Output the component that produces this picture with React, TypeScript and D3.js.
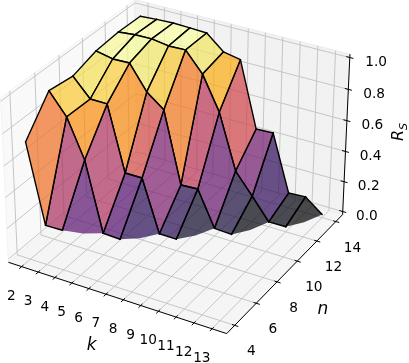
import React from "react";
import * as d3 from "d3";

const kTicks = [2, 3, 4, 5, 6, 7, 8, 9, 10, 11, 12, 13];
const nRows = [4, 6, 8, 10, 12, 14];
const zTicks = [0, 0.2, 0.4, 0.6, 0.8, 1.0];
const zN4 = [0.732, 0.236, 0.238];
const zN6 = [0.934, 0.802, 0.562, 0.122, 0.117];
const zN8 = [0.913, 0.799, 0.798, 0.388, 0.388, 0.056, 0.055];
const zN10 = [0.962, 0.94, 0.943, 0.79, 0.706, 0.251, 0.257, 0.03, 0.024];
const zN12 = [0.976, 0.986, 0.988, 0.971, 0.974, 0.85, 0.637, 0.284, 0.15, 0.011, 0.013];
const zN14 = [0.973, 0.98, 0.984, 0.98, 0.975, 0.883, 0.861, 0.441, 0.446, 0.078, 0.085, 0];
const rows = [zN4, zN6, zN8, zN10, zN12, zN14];

const W = 409, H = 363;
const kLim: [number, number] = [1.198, 13.802];
const nLim: [number, number] = [3.271, 14.729];
const zLim: [number, number] = [-0.0208, 1.0208];
const S = 2100, X0 = 178.6, Y0 = 158.6;

const aspect = [4, 4, 3];
const norm = Math.hypot(...aspect);
const box = aspect.map((a) => (a * 1.8294640721620434 * 25) / 24 / norm);
const kS = d3.scaleLinear().domain(kLim).range([-box[0] / 2, box[0] / 2]);
const nS = d3.scaleLinear().domain(nLim).range([-box[1] / 2, box[1] / 2]);
const zS = d3.scaleLinear().domain(zLim).range([-box[2] / 2, box[2] / 2]);

const el = (30 * Math.PI) / 180, az = (-60 * Math.PI) / 180;
const w = [Math.cos(el) * Math.cos(az), Math.cos(el) * Math.sin(az), Math.sin(el)];
const u = [-w[1], w[0], 0].map((c) => c / Math.hypot(w[0], w[1]));
const v = [
  w[1] * u[2] - w[2] * u[1],
  w[2] * u[0] - w[0] * u[2],
  w[0] * u[1] - w[1] * u[0],
];
const dot = (a: number[], b: number[]) => a[0] * b[0] + a[1] * b[1] + a[2] * b[2];

function proj(k: number, n: number, z: number) {
  const q = [kS(k), nS(n), zS(z)];
  const depth = 10 - dot(q, w);
  return { x: X0 + (S * dot(q, u)) / depth, y: Y0 - (S * dot(q, v)) / depth, depth };
}

type V = [number, number, number];
type Face = { pts: V[]; edges: [number, number][]; avg: number; depth: number };

const faces: Face[] = [];
const addFace = (pts: V[], edges: [number, number][]) => {
  faces.push({
    pts,
    edges,
    avg: d3.mean(pts, (p) => p[2]) as number,
    depth: d3.mean(pts, (p) => proj(p[0], p[1], p[2]).depth) as number,
  });
};
rows.forEach((row, i) => {
  const next = rows[i + 1];
  if (!next) return;
  const n0 = nRows[i], n1 = nRows[i + 1];
  row.forEach((z, j) => {
    const k0 = kTicks[j], k1 = kTicks[j + 1];
    if (j + 1 < row.length) {
      addFace(
        [[k0, n0, z], [k1, n0, row[j + 1]], [k1, n1, next[j + 1]], [k0, n1, next[j]]],
        [[0, 1], [1, 2], [2, 3], [3, 0]],
      );
    } else if (j + 1 < next.length) {
      // the far corner has no value: the open side is filled but not outlined
      const mid: V = [(k0 + k1) / 2, (n0 + n1) / 2, (z + next[j + 1]) / 2 - 0.012];
      addFace(
        [[k0, n0, z], mid, [k1, n1, next[j + 1]], [k0, n1, next[j]]],
        [[2, 3], [3, 0]],
      );
    }
  });
});
faces.sort((a, b) => b.depth - a.depth);
const [avgMin, avgMax] = d3.extent(faces, (f) => f.avg) as [number, number];
const color = d3.scaleSequential(d3.interpolateInferno).domain([avgMin, avgMax]);

const P = (k: number, n: number, z: number): [number, number] => {
  const p = proj(k, n, z);
  return [p.x, p.y];
};
const line = d3.line();
const seg = (a: V, b: V) => line([P(...a), P(...b)]) as string;
const poly = (pts: V[]) => (line(pts.map((p) => P(...p))) as string) + "Z";

const [k0, k1] = kLim, [n0, n1] = nLim, [z0, z1] = zLim;
const gridColor = "#c6c6c6";
const font = "'DejaVu Sans', sans-serif";

export default function App() {
  return (
    <svg
      width={W}
      height={H}
      viewBox={`0 0 ${W} ${H}`}
      style={{ position: "absolute", left: 0, top: 0, background: "#fff", filter: "blur(0.35px)" }}
    >
      {/* panes */}
      <path d={poly([[k0, n0, z0], [k0, n1, z0], [k0, n1, z1], [k0, n0, z1]])} fill="#f9f9f9" stroke="#f3f3f3" />
      <path d={poly([[k0, n1, z0], [k1, n1, z0], [k1, n1, z1], [k0, n1, z1]])} fill="#f2f2f2" stroke="#ececec" />
      <path d={poly([[k0, n0, z0], [k1, n0, z0], [k1, n1, z0], [k0, n1, z0]])} fill="#f5f5f5" stroke="#efefef" />
      {/* grid */}
      <g stroke={gridColor} strokeWidth={1} fill="none">
        {kTicks.map((k) => (
          <path key={k} d={line([P(k, n0, z0), P(k, n1, z0), P(k, n1, z1)]) as string} />
        ))}
        {nRows.map((n) => (
          <path key={n} d={line([P(k1, n, z0), P(k0, n, z0), P(k0, n, z1)]) as string} />
        ))}
        {zTicks.map((z) => (
          <path key={z} d={line([P(k0, n0, z), P(k0, n1, z), P(k1, n1, z)]) as string} />
        ))}
      </g>
      {/* axes */}
      <g stroke="#000" strokeWidth={1} fill="none">
        <path d={seg([k0, n0, z0], [k1, n0, z0])} />
        <path d={seg([k1, n0, z0], [k1, n1, z0])} />
        <path d={seg([k1, n1, z0], [k1, n1, z1])} />
        {kTicks.map((k) => (
          <path key={k} d={seg([k, n0 + 0.15, z0], [k, n0 - 0.2, z0])} />
        ))}
        {nRows.map((n) => (
          <path key={n} d={seg([k1 - 0.15, n, z0], [k1 + 0.2, n, z0])} />
        ))}
        {zTicks.map((z) => (
          <path key={z} d={seg([k1 - 0.2, n1, z], [k1 + 0.2, n1, z])} />
        ))}
      </g>
      {/* surface */}
      {faces.map((f, i) => (
        <g key={i}>
          <path d={poly(f.pts)} fill={color(f.avg)} fillOpacity={0.7} stroke="none" />
          <g stroke="#000" strokeWidth={1.4} strokeLinecap="round" fill="none">
            {f.edges.map(([a, b], j) => (
              <path key={j} d={seg(f.pts[a], f.pts[b])} />
            ))}
          </g>
        </g>
      ))}
      {/* tick labels */}
      <g fontFamily={font} fontSize={13.7} textAnchor="middle" fill="#000">
        {kTicks.map((k) => {
          const [x, y] = P(k, n0, z0);
          return (
            <text key={k} x={x - 10.2} y={y + 28.2 + 5}>
              {k}
            </text>
          );
        })}
        {nRows.map((n) => {
          const [x, y] = P(k1, n, z0);
          return (
            <text key={n} x={x + 16.6} y={y + 25 + 5}>
              {n}
            </text>
          );
        })}
        {zTicks.map((z) => {
          const [x, y] = P(k1, n1, z);
          return (
            <text key={z} x={x + 24.2 + 2.1 * z} y={y + 3 + 0.5 * z + 5}>
              {z.toFixed(1)}
            </text>
          );
        })}
      </g>
      {/* axis labels */}
      <g fontFamily={font} fontSize={17} fontStyle="italic" fill="#000">
        <text x={91.7} y={350} textAnchor="middle">k</text>
        <text x={323} y={314} textAnchor="middle">n</text>
        <text transform="translate(403,141) rotate(-90)" fontSize={16}>
          R<tspan fontSize={11.2} dy={4.2}>S</tspan>
        </text>
      </g>
    </svg>
  );
}
